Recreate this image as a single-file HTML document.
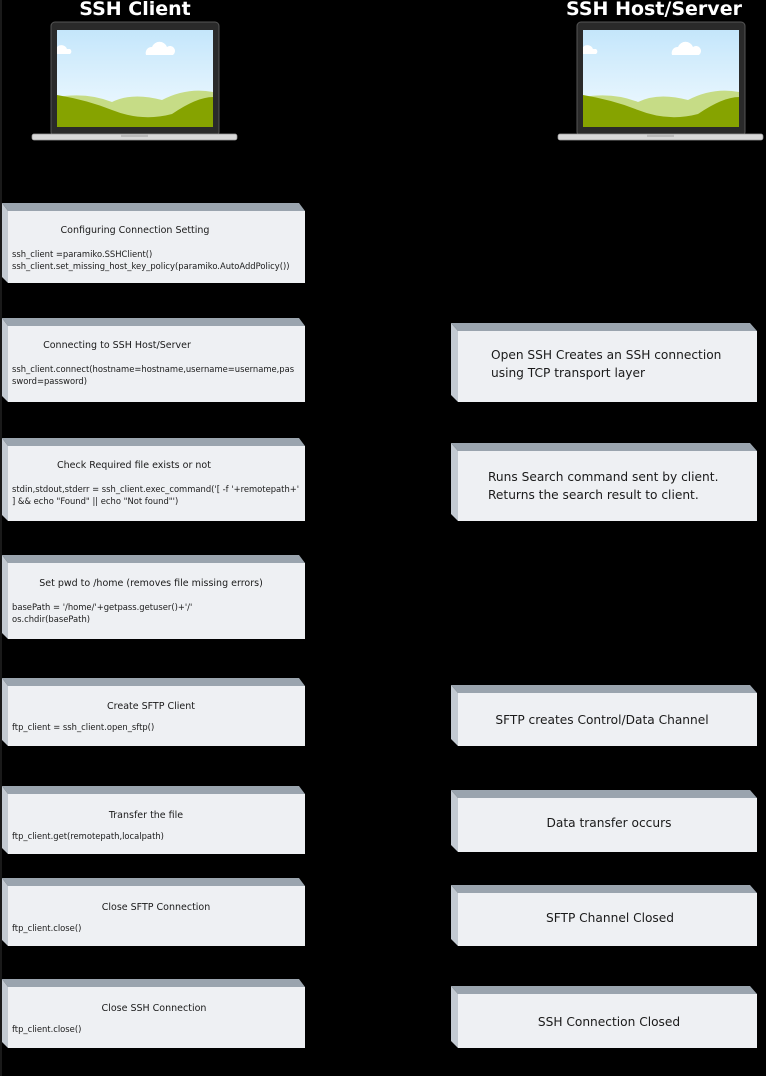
<!DOCTYPE html>
<html><head><meta charset="utf-8"><style>
html,body{margin:0;padding:0;background:#000;}
svg{display:block}
text{font-family:"DejaVu Sans","Liberation Sans",sans-serif;fill:#1a1a1a}
.t{font-size:9.5px}
.c{font-size:8.4px}
.r{font-size:12.2px}
.h{font-size:19px;font-weight:bold;fill:#fff}
</style></head><body>
<svg width="766" height="1076" viewBox="0 0 766 1076" xmlns="http://www.w3.org/2000/svg">
<defs>
<linearGradient id="sky" x1="0" y1="0" x2="0" y2="1"><stop offset="0" stop-color="#c4e6fb"/><stop offset="1" stop-color="#f3fbff"/></linearGradient>
<g id="lap">
<rect x="19" y="0" width="168" height="114" rx="4" fill="#2a2a2a" stroke="#555"/>
<rect x="25" y="8" width="156" height="97" fill="url(#sky)"/>
<path d="M25 25 a6 6 0 0 1 10 2 h3 a3 3 0 0 1 0 5 h-13 z" fill="#fff"/>
<path d="M114 33 a6 6 0 0 1 6 -8 a8 8 0 0 1 15 0 a5 5 0 0 1 6 8 z" fill="#fff"/>
<path d="M25 75 Q55 70 80 80 Q100 70 130 78 Q155 65 181 70 V105 H25 Z" fill="#c6dc86"/>
<path d="M25 73 Q55 78 80 88 Q110 100 140 92 Q165 75 181 75 V105 H25 Z" fill="#86a300"/>
<rect x="0" y="112" width="205" height="6" rx="2" fill="#d8d8d8" stroke="#999" stroke-width="0.7"/>
<rect x="89" y="112" width="27" height="3" fill="#bbb"/>
</g>
</defs>
<rect width="766" height="1076" fill="#000"/>
<line x1="1" y1="0" x2="1" y2="1076" stroke="#333" stroke-width="1"/>
<text class="h" x="135" y="15" text-anchor="middle">SSH Client</text>
<text class="h" x="654" y="15" text-anchor="middle">SSH Host/Server</text>
<use href="#lap" x="32" y="22"/>
<use href="#lap" x="558" y="22"/>

<polygon points="2,203 299,203 305,211 8,211" fill="#9aa4ae"/>
<polygon points="2,203 8,211 8,283 2,277" fill="#c3cad2"/>
<rect x="8" y="211" width="297" height="72" fill="#eef0f3"/>
<text class="t" x="135" y="233" text-anchor="middle">Configuring Connection Setting</text>
<text class="c" x="12" y="257">ssh_client =paramiko.SSHClient()</text>
<text class="c" x="12" y="269">ssh_client.set_missing_host_key_policy(paramiko.AutoAddPolicy())</text>

<polygon points="2,318 299,318 305,326 8,326" fill="#9aa4ae"/>
<polygon points="2,318 8,326 8,402 2,396" fill="#c3cad2"/>
<rect x="8" y="326" width="297" height="76" fill="#eef0f3"/>
<text class="t" x="117" y="348" text-anchor="middle">Connecting to SSH Host/Server</text>
<text class="c" x="12" y="372">ssh_client.connect(hostname=hostname,username=username,pas</text>
<text class="c" x="12" y="384">sword=password)</text>

<polygon points="2,438 299,438 305,446 8,446" fill="#9aa4ae"/>
<polygon points="2,438 8,446 8,521 2,515" fill="#c3cad2"/>
<rect x="8" y="446" width="297" height="75" fill="#eef0f3"/>
<text class="t" x="134" y="468" text-anchor="middle">Check Required file exists or not</text>
<text class="c" x="12" y="492">stdin,stdout,stderr = ssh_client.exec_command('[ -f '+remotepath+'</text>
<text class="c" x="12" y="504">] &amp;&amp; echo "Found" || echo "Not found"')</text>

<polygon points="2,555 299,555 305,563 8,563" fill="#9aa4ae"/>
<polygon points="2,555 8,563 8,639 2,633" fill="#c3cad2"/>
<rect x="8" y="563" width="297" height="76" fill="#eef0f3"/>
<text class="t" x="151" y="586" text-anchor="middle">Set pwd to /home (removes file missing errors)</text>
<text class="c" x="12" y="610">basePath = '/home/'+getpass.getuser()+'/'</text>
<text class="c" x="12" y="622">os.chdir(basePath)</text>

<polygon points="2,678 299,678 305,686 8,686" fill="#9aa4ae"/>
<polygon points="2,678 8,686 8,746 2,740" fill="#c3cad2"/>
<rect x="8" y="686" width="297" height="60" fill="#eef0f3"/>
<text class="t" x="151" y="709" text-anchor="middle">Create SFTP Client</text>
<text class="c" x="12" y="730">ftp_client = ssh_client.open_sftp()</text>

<polygon points="2,786 299,786 305,794 8,794" fill="#9aa4ae"/>
<polygon points="2,786 8,794 8,854 2,848" fill="#c3cad2"/>
<rect x="8" y="794" width="297" height="60" fill="#eef0f3"/>
<text class="t" x="146" y="818" text-anchor="middle">Transfer the file</text>
<text class="c" x="12" y="839">ftp_client.get(remotepath,localpath)</text>

<polygon points="2,878 299,878 305,886 8,886" fill="#9aa4ae"/>
<polygon points="2,878 8,886 8,946 2,940" fill="#c3cad2"/>
<rect x="8" y="886" width="297" height="60" fill="#eef0f3"/>
<text class="t" x="156" y="910" text-anchor="middle">Close SFTP Connection</text>
<text class="c" x="12" y="931">ftp_client.close()</text>

<polygon points="2,979 299,979 305,987 8,987" fill="#9aa4ae"/>
<polygon points="2,979 8,987 8,1048 2,1042" fill="#c3cad2"/>
<rect x="8" y="987" width="297" height="61" fill="#eef0f3"/>
<text class="t" x="154" y="1011" text-anchor="middle">Close SSH Connection</text>
<text class="c" x="12" y="1032">ftp_client.close()</text>

<polygon points="451,323 750,323 757,331 458,331" fill="#9aa4ae"/>
<polygon points="451,323 458,331 458,402 451,395" fill="#c3cad2"/>
<rect x="458" y="331" width="299" height="71" fill="#eef0f3"/>
<text class="r" x="491" y="359">Open SSH Creates an SSH connection</text>
<text class="r" x="491" y="377">using TCP transport layer</text>

<polygon points="451,443 750,443 757,451 458,451" fill="#9aa4ae"/>
<polygon points="451,443 458,451 458,521 451,514" fill="#c3cad2"/>
<rect x="458" y="451" width="299" height="70" fill="#eef0f3"/>
<text class="r" x="488" y="481">Runs Search command sent by client.</text>
<text class="r" x="488" y="499">Returns the search result to client.</text>

<polygon points="451,685 750,685 757,693 458,693" fill="#9aa4ae"/>
<polygon points="451,685 458,693 458,746 451,739" fill="#c3cad2"/>
<rect x="458" y="693" width="299" height="53" fill="#eef0f3"/>
<text class="r" x="602" y="724" text-anchor="middle">SFTP creates Control/Data Channel</text>

<polygon points="451,790 750,790 757,798 458,798" fill="#9aa4ae"/>
<polygon points="451,790 458,798 458,852 451,845" fill="#c3cad2"/>
<rect x="458" y="798" width="299" height="54" fill="#eef0f3"/>
<text class="r" x="609" y="827" text-anchor="middle">Data transfer occurs</text>

<polygon points="451,885 750,885 757,893 458,893" fill="#9aa4ae"/>
<polygon points="451,885 458,893 458,946 451,939" fill="#c3cad2"/>
<rect x="458" y="893" width="299" height="53" fill="#eef0f3"/>
<text class="r" x="610" y="922" text-anchor="middle">SFTP Channel Closed</text>

<polygon points="451,986 750,986 757,994 458,994" fill="#9aa4ae"/>
<polygon points="451,986 458,994 458,1048 451,1041" fill="#c3cad2"/>
<rect x="458" y="994" width="299" height="54" fill="#eef0f3"/>
<text class="r" x="609" y="1026" text-anchor="middle">SSH Connection Closed</text>
</svg>
</body></html>
